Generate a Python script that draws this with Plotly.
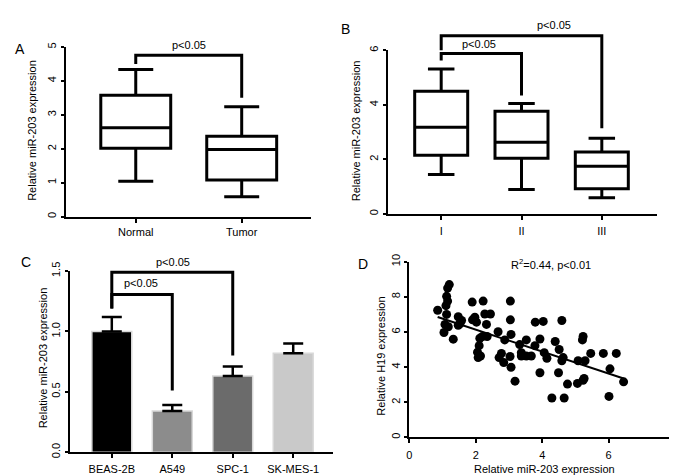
import plotly.graph_objects as go

# ---------------- data ----------------
# Panel A: box statistics
a_categories = ["Normal", "Tumor"]
a_lower = [1.04, 0.58]
a_q1 = [2.01, 1.08]
a_median = [2.62, 1.98]
a_q3 = [3.58, 2.37]
a_upper = [4.34, 3.24]

# Panel B: box statistics by stage
b_categories = ["I", "II", "III"]
b_lower = [1.44, 0.89, 0.59]
b_q1 = [2.15, 2.04, 0.92]
b_median = [3.18, 2.63, 1.75]
b_q3 = [4.50, 3.76, 2.27]
b_upper = [5.31, 4.05, 2.77]

# Panel C: bar means and upper error
c_categories = ["BEAS-2B", "A549", "SPC-1", "SK-MES-1"]
c_values = [1.00, 0.34, 0.63, 0.82]
c_errors = [0.12, 0.05, 0.08, 0.08]
c_colors = ["#000000", "#8c8c8c", "#6b6b6b", "#c9c9c9"]

# Panel D: scatter
d_x = [0.85, 1.10, 1.12, 1.15, 1.15, 1.20, 1.07, 1.04, 1.17, 1.32, 1.47, 1.52,
       1.47, 1.57, 1.89, 1.90, 1.97, 2.02, 2.22, 2.27, 2.44, 2.32, 2.34, 2.20,
       2.12, 2.10, 2.05, 2.07, 2.14, 2.67, 2.87, 2.70, 2.77, 2.84, 3.04, 3.04,
       3.06, 3.03, 3.06, 3.18, 3.32, 3.37, 3.37, 3.52, 3.52, 3.67, 3.78, 3.79,
       4.03, 3.93, 3.93, 4.06, 4.14, 4.29, 4.39, 4.51, 4.49, 4.59, 4.59, 4.63,
       4.66, 4.76, 5.06, 5.08, 5.21, 5.23, 5.23, 5.26, 5.29, 5.46, 5.84, 6.04,
       6.01, 6.23, 6.45, 1.12]
d_y = [7.24, 7.50, 7.00, 7.76, 8.50, 8.70, 6.43, 5.97, 6.30, 5.59, 6.87, 6.47,
       6.38, 6.65, 7.70, 6.69, 6.84, 6.56, 7.76, 7.02, 7.02, 6.43, 5.74, 5.74,
       5.64, 5.22, 4.85, 4.54, 4.63, 6.01, 5.55, 4.54, 4.78, 4.26, 7.76, 6.69,
       5.86, 4.60, 3.99, 3.20, 5.28, 4.82, 4.63, 5.55, 4.63, 4.63, 5.22, 6.56,
       6.60, 5.60, 3.68, 4.82, 4.50, 2.24, 5.46, 5.00, 3.68, 6.65, 4.36, 4.54,
       2.24, 3.03, 3.07, 4.36, 5.55, 5.74, 3.25, 3.35, 4.36, 4.78, 4.78, 3.90,
       2.33, 4.78, 3.16, 8.03]
d_fit_x = [0.85, 6.45]
d_fit_y = [6.85, 3.35]
d_stat_label = "R<sup>2</sup>=0.44, p<0.01"

# Significance brackets: (left idx, right idx, left foot, top, right foot)
a_brackets = [(0, 1, 4.50, 4.76, 3.50)]
a_labels = [(0.5, 5.07, "p<0.05")]
b_brackets = [(0, 1, 5.62, 5.88, 4.34), (0, 2, 6.00, 6.53, 3.14)]
b_labels = [(0.47, 6.21, "p<0.05"), (1.40, 6.92, "p<0.05")]
c_brackets = [(0, 1, 1.19, 1.305, 0.51), (0, 2, 1.19, 1.49, 0.80)]
c_labels = [(0.49, 1.40, "p<0.05"), (1.01, 1.572, "p<0.05")]

FONT = "Arial, Liberation Sans, sans-serif"
W, H = 677, 476

fig = go.Figure()

# ---------------- traces ----------------
box_style = dict(fillcolor="white", line=dict(color="black", width=3),
                 whiskerwidth=0.5, boxpoints=False, showlegend=False,
                 hoverinfo="skip")
fig.add_trace(go.Box(x=a_categories, q1=a_q1, median=a_median, q3=a_q3,
                     lowerfence=a_lower, upperfence=a_upper,
                     xaxis="x", yaxis="y", **box_style))
fig.add_trace(go.Box(x=b_categories, q1=b_q1, median=b_median, q3=b_q3,
                     lowerfence=b_lower, upperfence=b_upper,
                     xaxis="x2", yaxis="y2", **box_style))
fig.add_trace(go.Bar(x=c_categories, y=c_values,
                     marker=dict(color=c_colors, line=dict(color="#d8d8d8", width=1.5)),
                     error_y=dict(type="data", symmetric=False, array=c_errors,
                                  arrayminus=[0] * len(c_errors), color="black",
                                  thickness=2.5, width=10),
                     xaxis="x3", yaxis="y3", showlegend=False))
fig.add_trace(go.Scatter(x=d_x, y=d_y, mode="markers",
                         marker=dict(color="black", size=9),
                         xaxis="x4", yaxis="y4", showlegend=False, cliponaxis=False))
fig.add_trace(go.Scatter(x=d_fit_x, y=d_fit_y, mode="lines",
                         line=dict(color="black", width=2),
                         xaxis="x4", yaxis="y4", showlegend=False))


def px_dom_x(a, b):
    return [a / W, b / W]


def px_dom_y(top, bottom):
    return [1 - bottom / H, 1 - top / H]


axis_common = dict(showline=True, linewidth=2, linecolor="black", mirror=False,
                   ticks="outside", ticklen=3, tickwidth=1.5, tickcolor="black",
                   showgrid=False, zeroline=False,
                   tickfont=dict(family=FONT, size=11, color="black"))
xaxis_common = dict(axis_common, ticklen=4)

# domains in pixels
domA = (55, 303, 31, 206)
domB = (380, 652, 34.3, 203.3)
domC = (59.3, 325, 262.3, 449.3)
domD = (402, 670, 252.7, 434)

rangeA_y = [0, 5]
rangeB_y = [0, 6]
rangeC_y = [0, 1.5]

fig.update_layout(
    width=W, height=H, autosize=False,
    margin=dict(l=0, r=0, t=0, b=0),
    paper_bgcolor="white", plot_bgcolor="white",
    font=dict(family=FONT, size=11, color="black"),
    boxgap=0.34, boxgroupgap=0, bargap=0.34,
    xaxis=dict(domain=px_dom_x(domA[0], domA[1]), anchor="y", type="category",
               range=[-0.663, 1.657], **xaxis_common),
    yaxis=dict(domain=px_dom_y(domA[2], domA[3]), anchor="x", range=rangeA_y,
               dtick=1, tickangle=-90, **axis_common),
    xaxis2=dict(domain=px_dom_x(domB[0], domB[1]), anchor="y2", type="category",
                range=[-0.667, 2.69], ticklabelstandoff=2, **xaxis_common),
    yaxis2=dict(domain=px_dom_y(domB[2], domB[3]), anchor="x2", range=rangeB_y,
                dtick=2, tickangle=-90, **axis_common),
    xaxis3=dict(domain=px_dom_x(domC[0], domC[1]), anchor="y3", type="category",
                range=[-0.695, 3.66], ticklabelstandoff=2, **xaxis_common),
    yaxis3=dict(domain=px_dom_y(domC[2], domC[3]), anchor="x3", range=rangeC_y,
                dtick=0.5, tickformat=".1f", tickangle=-90, **axis_common),
    xaxis4=dict(domain=px_dom_x(domD[0], domD[1]), anchor="y4",
                range=[0, 8], dtick=2, ticklabelstandoff=2, **xaxis_common),
    yaxis4=dict(domain=px_dom_y(domD[2], domD[3]), anchor="x4",
                range=[0, 10], dtick=2, tickangle=-90, **axis_common),
)

# ---------------- significance brackets ----------------
shapes = []
annotations = []


def add_brackets(brackets, labels, xref, yref, yrange):
    lo, hi = yrange

    def d(v):
        return (v - lo) / (hi - lo)

    for (i0, i1, yl, yt, yr) in brackets:
        path = f"M {i0} {d(yl)} L {i0} {d(yt)} L {i1} {d(yt)} L {i1} {d(yr)}"
        shapes.append(dict(type="path", path=path, xref=xref, yref=yref + " domain",
                           line=dict(color="black", width=3)))
    for (lx, ly, txt) in labels:
        annotations.append(dict(x=lx, y=d(ly), xref=xref, yref=yref + " domain",
                                text=txt.replace("<", "&lt;"), showarrow=False,
                                xanchor="center", yanchor="middle",
                                font=dict(family=FONT, size=11, color="black")))


add_brackets(a_brackets, a_labels, "x", "y", rangeA_y)
add_brackets(b_brackets, b_labels, "x2", "y2", rangeB_y)
add_brackets(c_brackets, c_labels, "x3", "y3", rangeC_y)

# statistic in panel D
annotations.append(dict(x=545 / W, y=1 - 255 / H, xref="paper", yref="paper",
                        text=d_stat_label.replace("p<", "p&lt;"), showarrow=False,
                        xanchor="center", yanchor="middle",
                        font=dict(family=FONT, size=11, color="black")))

# axis titles (placed as rotated annotations)
titles = [
    (21.7, 117, "Relative miR-203 expression", -90),
    (348, 117, "Relative miR-203 expression", -90),
    (31.7, 352, "Relative miR-203 expression", -90),
    (373, 350, "Relative H19 expression", -90),
    (538, 467, "Relative miR-203 expression", 0),
]
for (tx, ty, txt, ang) in titles:
    annotations.append(dict(x=tx / W, y=1 - ty / H, xref="paper", yref="paper",
                            text=txt, textangle=ang, showarrow=False,
                            xanchor="center", yanchor="middle",
                            font=dict(family=FONT, size=11, color="black")))

# panel letters
letters = [(9.5, 33, "A"), (337, 12, "B"), (15, 253, "C"), (355, 255, "D")]
for (lx, ly, txt) in letters:
    annotations.append(dict(x=lx / W, y=1 - ly / H, xref="paper", yref="paper",
                            text=txt, showarrow=False, xanchor="center", yanchor="middle",
                            font=dict(family=FONT, size=14, color="black")))

fig.update_layout(shapes=shapes, annotations=annotations)

fig.write_html("out.html")
